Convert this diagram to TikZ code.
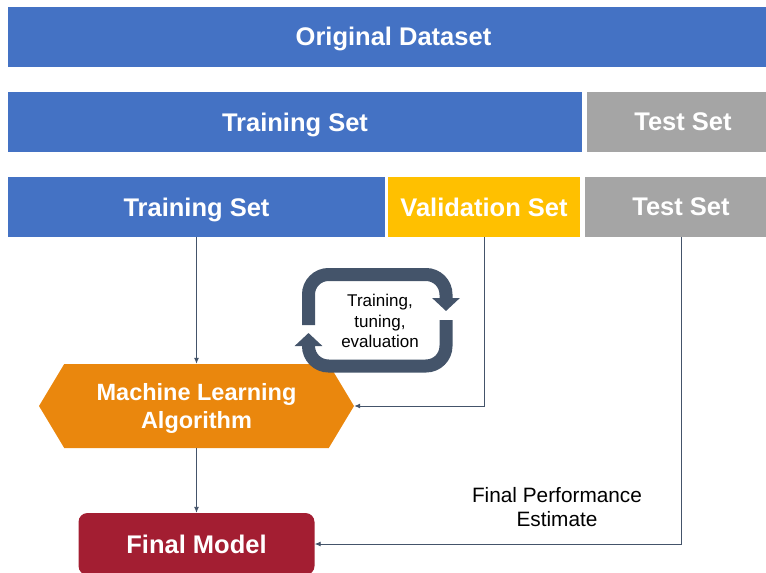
\documentclass[tikz,border=0pt]{standalone}
\usepackage{fontspec}
\setmainfont{Liberation Sans}
\usepackage{tikz}
\usetikzlibrary{arrows.meta,shapes.symbols}
\definecolor{blueHTML}{HTML}{4472C4}
\definecolor{greyHTML}{HTML}{A5A5A5}
\definecolor{goldHTML}{HTML}{FFC000}
\definecolor{orangeHTML}{HTML}{EA870D}
\definecolor{redHTML}{HTML}{A31E32}
\definecolor{slateHTML}{HTML}{44546A}
\tikzset{
  bar/.style={rectangle, text=white, font=\bfseries\fontsize{25.5}{30}\selectfont, minimum height=60pt, inner sep=0pt, text depth=0pt},
  blue_bar/.style={bar, fill=blueHTML},
  grey_bar/.style={bar, fill=greyHTML},
  gold_bar/.style={bar, fill=goldHTML},
  algo_box/.style={signal, signal to=west and east, signal pointer angle=118, fill=orangeHTML, text=white, font=\bfseries\fontsize{23.5}{28}\selectfont, align=center, minimum width=315pt, minimum height=84pt, inner sep=0pt, text depth=0pt},
  model_box/.style={rectangle, rounded corners=9pt, fill=redHTML, text=white, font=\bfseries\fontsize{25.5}{30}\selectfont, minimum width=236pt, minimum height=62pt, inner sep=0pt, text depth=0pt},
  edge/.style={draw=slateHTML, line width=0.9pt, -{Latex[length=6pt,width=5pt]}},
  loop_edge/.style={draw=slateHTML, line width=13pt, rounded corners=20pt, -{Triangle[length=13pt,width=27pt]}},
  note/.style={align=center, font=\fontsize{20.8}{24}\selectfont},
  loop_note/.style={align=center, font=\fontsize{17}{20.5}\selectfont}
}
\begin{document}
\begin{tikzpicture}[x=1pt, y=-1pt]
        \useasboundingbox (0, 0) rectangle (766, 573);
        \node[blue_bar, minimum width=771pt] (0) at (393.5, 36.5) {Original Dataset};
        \node[blue_bar, minimum width=574pt] (1) at (295, 122) {Training Set};
        \node[grey_bar, minimum width=192pt] (2) at (683, 122) {Test Set};
        \node[blue_bar, minimum width=377pt] (3) at (196.5, 207) {Training Set};
        \node[gold_bar, minimum width=192pt] (4) at (484, 207) {Validation Set};
        \node[grey_bar, minimum width=192pt] (5) at (681, 207) {Test Set};
        \node[algo_box] (6) at (196.5, 406) {Machine Learning\\Algorithm};
        \node[model_box] (7) at (196.5, 544) {Final Model};
        \node[note] (8) at (557, 507) {Final Performance\\Estimate};
        \node[loop_note] (9) at (380, 321) {Training,\\tuning,\\evaluation};
        \draw[loop_edge] (308.5, 325) -- (308.5, 274.5) -- (446, 274.5) -- (446, 311);
        \draw[loop_edge] (446, 320) -- (446, 366) -- (308.5, 366) -- (308.5, 333);
        \draw[edge] (3) -- (6);
        \draw[edge] (6) -- (7);
        \draw[edge] (4.south) |- (6.east);
        \draw[edge] (5.south) |- (7.east);
    \end{tikzpicture}
\end{document}
